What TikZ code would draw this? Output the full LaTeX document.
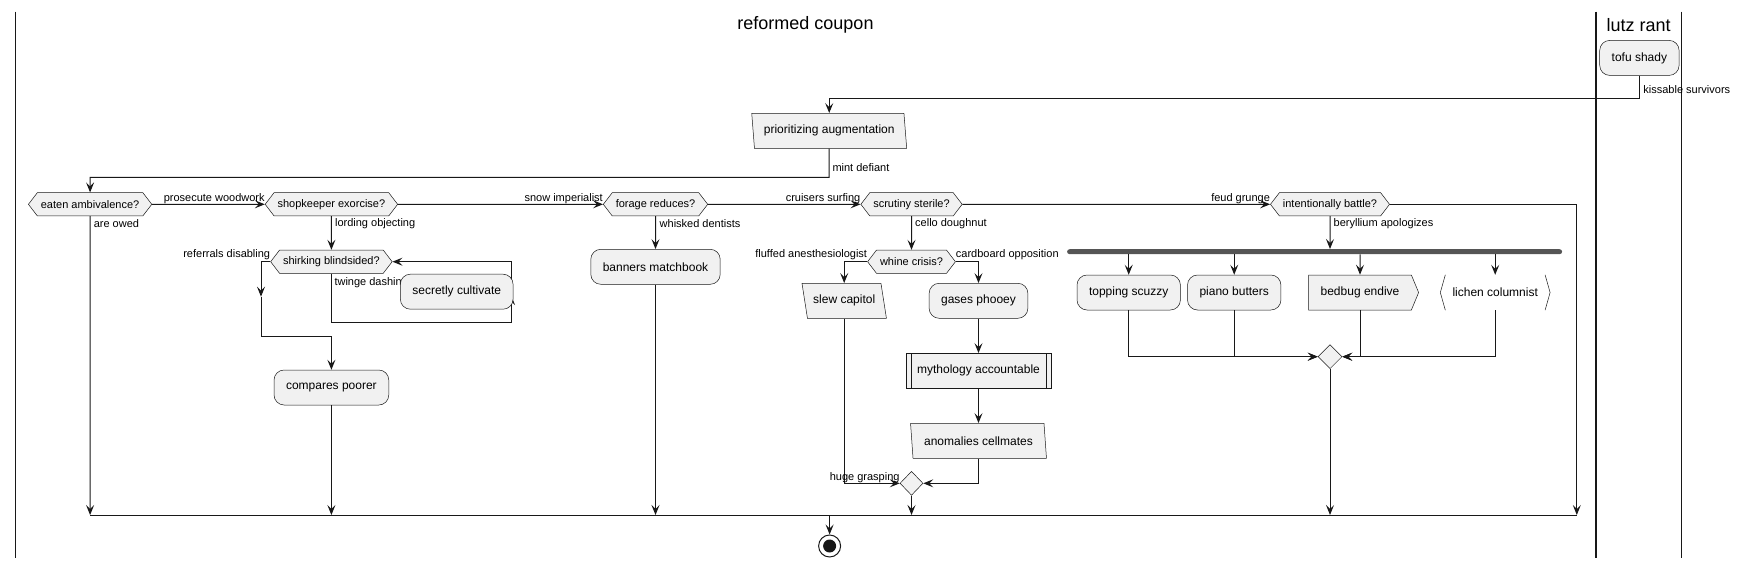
\documentclass[tikz,border=0pt]{standalone}
\usepackage{fontspec}
\setmainfont{Liberation Sans}
\usetikzlibrary{arrows.meta,shapes.geometric,shapes.symbols}

\definecolor{linecol}{HTML}{181818}
\definecolor{boxfill}{HTML}{F1F1F1}
\definecolor{barcol}{HTML}{555555}

\tikzset{
	flow/.style={draw=linecol, line width=1pt, -{Stealth[length=10pt,width=8pt,inset=4pt]}},
	plain/.style={draw=linecol, line width=1pt},
	lane/.style={draw=linecol, line width=1.5pt},
	lanetitle/.style={font=\fontsize{18}{22}\selectfont},
	lbl/.style={inner sep=0pt, font=\fontsize{11}{13}\selectfont},
	actbox/.style={rectangle, rounded corners=10pt, draw=linecol, line width=0.5pt, fill=boxfill,
		minimum height=35pt, inner xsep=12pt, font=\fontsize{12}{14}\selectfont},
	choice/.style={signal, signal to=west and east, signal pointer angle=105, draw=linecol,
		line width=0.5pt, fill=boxfill, minimum height=23.3pt, inner xsep=3.5pt, inner ysep=2pt,
		font=\fontsize{11}{13}\selectfont},
	iobox/.style={trapezium, trapezium left angle=98, trapezium right angle=82, trapezium stretches=true,
		draw=linecol, line width=0.5pt, fill=boxfill, minimum height=35pt, font=\fontsize{12}{14}\selectfont},
	sendbox/.style={signal, signal to=east, signal pointer angle=135, draw=linecol, line width=0.5pt,
		fill=boxfill, minimum height=35pt, inner xsep=12pt, font=\fontsize{12}{14}\selectfont},
	recvbox/.style={rectangle, minimum height=35pt, inner xsep=7pt, font=\fontsize{12}{14}\selectfont},
	subproc/.style={rectangle, draw=linecol, line width=0.5pt, fill=boxfill, minimum height=35pt,
		minimum width=145pt, font=\fontsize{12}{14}\selectfont,
		path picture={\draw[linecol, line width=0.5pt]
			([xshift=5pt]path picture bounding box.north west) -- ([xshift=5pt]path picture bounding box.south west)
			([xshift=-5pt]path picture bounding box.north east) -- ([xshift=-5pt]path picture bounding box.south east);}},
	merge/.style={diamond, draw=linecol, line width=0.5pt, fill=boxfill, minimum width=23pt,
		minimum height=24pt, inner sep=0pt},
	forkbar/.style={rectangle, fill=barcol, rounded corners=2.5pt, minimum width=495pt,
		minimum height=5pt, inner sep=0pt},
	stopnode/.style={circle, draw=linecol, line width=1pt, fill=white, minimum size=22pt, inner sep=0pt,
		path picture={\fill[linecol] (path picture bounding box.center) circle (6.5pt);}}
}

\begin{document}
\begin{tikzpicture}[x=1pt,y=-1pt]
	\useasboundingbox (0,0) rectangle (1742,568);

	\draw[lane] (15.3,11.7) -- (15.3,558.3);
	\draw[lane] (1595.8,11.7) -- (1595.8,558.3);
	\draw[lane] (1681.5,11.7) -- (1681.5,558.3);
	\node[lanetitle] (laneA) at (805.5,25) {reformed coupon};
	\node[lanetitle] (laneB) at (1638.7,25) {lutz rant};

	\coordinate (tj) at (1639.4,98.3);
	\coordinate (pj) at (829.2,177.3);
	\coordinate (skL) at (261,296.7);
	\coordinate (skB) at (261,336.7);
	\coordinate (lpB) at (511,322.7);
	\coordinate (lpM) at (511,295);
	\coordinate (mL) at (90,515);
	\coordinate (mR) at (1576.8,515);
	\coordinate (mEnd) at (829.6,515);

	\node[actbox] (tofu) at (1639.4,57.9) {tofu shady};
	\node[iobox, minimum width=155pt] (prio) at (829.2,130.8) {prioritizing augmentation};
	\draw[flow] (tofu) -- (tj) -| (prio);
	\node[lbl, anchor=west] (lkiss) at (1643.2,89.3) {kissable survivors};

	\node[choice] (eaten) at (90.1,204.3) {eaten ambivalence?};
	\node[choice] (shop) at (331.4,204.3) {shopkeeper exorcise?};
	\node[choice] (forage) at (655.5,204.3) {forage reduces?};
	\node[choice] (scrut) at (911.5,204.3) {scrutiny sterile?};
	\node[choice] (intent) at (1330,204.3) {intentionally battle?};
	\draw[flow] (prio) -- (pj) -| (eaten);
	\node[lbl, anchor=west] (lmint) at (832.3,167.3) {mint defiant};

	\draw[flow] (eaten) -- (shop);
	\draw[flow] (shop) -- (forage);
	\draw[flow] (forage) -- (scrut);
	\draw[flow] (scrut) -- (intent);
	\node[lbl, anchor=east] (lpros) at ([yshift=6pt]shop.west) {prosecute woodwork};
	\node[lbl, anchor=east] (lsnow) at ([yshift=6pt]forage.west) {snow imperialist};
	\node[lbl, anchor=east] (lcruis) at ([yshift=6pt]scrut.west) {cruisers surfing};
	\node[lbl, anchor=east] (lfeud) at ([yshift=6pt]intent.west) {feud grunge};

	\draw[plain] (mL) -- (mR);
	\draw[flow] (eaten) -- (eaten |- mL);
	\node[lbl, anchor=west] (lowed) at ([xshift=3.5pt,yshift=-19.7pt]eaten.center) {are owed};

	\node[choice] (shirk) at (331.4,261.7) {shirking blindsided?};
	\node[actbox] (comp) at (331.4,387.5) {compares poorer};
	\draw[flow] (shop) -- (shirk);
	\node[lbl, anchor=west] (llord) at ([xshift=3.5pt,yshift=-19.7pt]shop.center) {lording objecting};
	\draw[flow] (shirk) -| (skL);
	\draw[flow] (skL) -- (skB) -| (comp);
	\node[lbl, anchor=east] (lrefer) at ([yshift=6.7pt]shirk.west) {referrals disabling};
	\draw[flow] (shirk) |- (lpB) -- (lpM);
	\draw[flow] (lpM) |- (shirk);
	\node[lbl, anchor=west] (ltwinge) at (334.3,282.7) {twinge dashin};
	\node[actbox] (secret) at (456.7,291.7) {secretly cultivate};
	\draw[flow] (comp) -- (comp |- mL);

	\node[actbox] (banners) at (655.5,266.8) {banners matchbook};
	\draw[flow] (forage) -- (banners);
	\node[lbl, anchor=west] (lwhisk) at ([xshift=4pt,yshift=-19.7pt]forage.center) {whisked dentists};
	\draw[flow] (banners) -- (banners |- mL);

	\node[choice] (whine) at (911.5,261.7) {whine crisis?};
	\draw[flow] (scrut) -- (whine);
	\node[lbl, anchor=west] (lcello) at ([xshift=3.5pt,yshift=-19.7pt]scrut.center) {cello doughnut};
	\node[iobox, trapezium left angle=106, trapezium right angle=74, minimum width=85pt] (slew) at (844.2,300.8) {slew capitol};
	\node[actbox] (gases) at (978.5,300.8) {gases phooey};
	\draw[flow] (whine) -| (slew);
	\draw[flow] (whine) -| (gases);
	\node[lbl, anchor=east] (lfluff) at ([yshift=6.7pt]whine.west) {fluffed anesthesiologist};
	\node[lbl, anchor=west] (lcard) at ([yshift=6.7pt]whine.east) {cardboard opposition};
	\node[subproc] (myth) at (978.5,370.8) {mythology accountable};
	\draw[flow] (gases) -- (myth);
	\node[iobox, minimum width=136pt] (anom) at (978.5,440.8) {anomalies cellmates};
	\draw[flow] (myth) -- (anom);
	\node[merge] (mrg) at (911.5,483.3) {};
	\draw[flow] (slew) |- (mrg);
	\draw[flow] (anom) |- (mrg);
	\node[lbl, anchor=east] (lhuge) at ([yshift=6pt]mrg.west) {huge grasping};
	\draw[flow] (mrg) -- (mrg |- mL);

	\node[forkbar] (fork) at (1314.6,251.7) {};
	\draw[flow] (intent) -- (intent |- fork.north);
	\node[lbl, anchor=west] (lberyl) at ([xshift=3.5pt,yshift=-19.7pt]intent.center) {beryllium apologizes};
	\node[actbox] (topping) at (1128.7,292.5) {topping scuzzy};
	\node[actbox] (piano) at (1234.2,292.5) {piano butters};
	\node[sendbox] (bedbug) at (1360,292.5) {bedbug endive};
	\node[recvbox] (lichen) at (1495.2,292.5) {lichen columnist};
	\draw[draw=linecol, line width=0.5pt] (lichen.north west) -- ([xshift=-5pt]lichen.west) -- (lichen.south west);
	\draw[draw=linecol, line width=0.5pt] (lichen.north east) -- ([xshift=5pt]lichen.east) -- (lichen.south east);
	\draw[flow] (topping |- fork.south) -- (topping);
	\draw[flow] (piano |- fork.south) -- (piano);
	\draw[flow] (bedbug |- fork.south) -- (bedbug);
	\draw[flow] (lichen |- fork.south) -- (lichen);
	\node[merge, minimum width=24pt] (join) at (1330,356.7) {};
	\draw[flow] (topping) |- (join);
	\draw[flow] (piano) |- (join);
	\draw[flow] (bedbug) |- (join);
	\draw[flow] (lichen) |- (join);
	\draw[flow] (join) -- (join |- mL);
	\draw[flow] (intent) -| (mR);

	\node[stopnode] (stop) at (829.6,546) {};
	\draw[flow] (mEnd) -- (stop);
\end{tikzpicture}
\end{document}
